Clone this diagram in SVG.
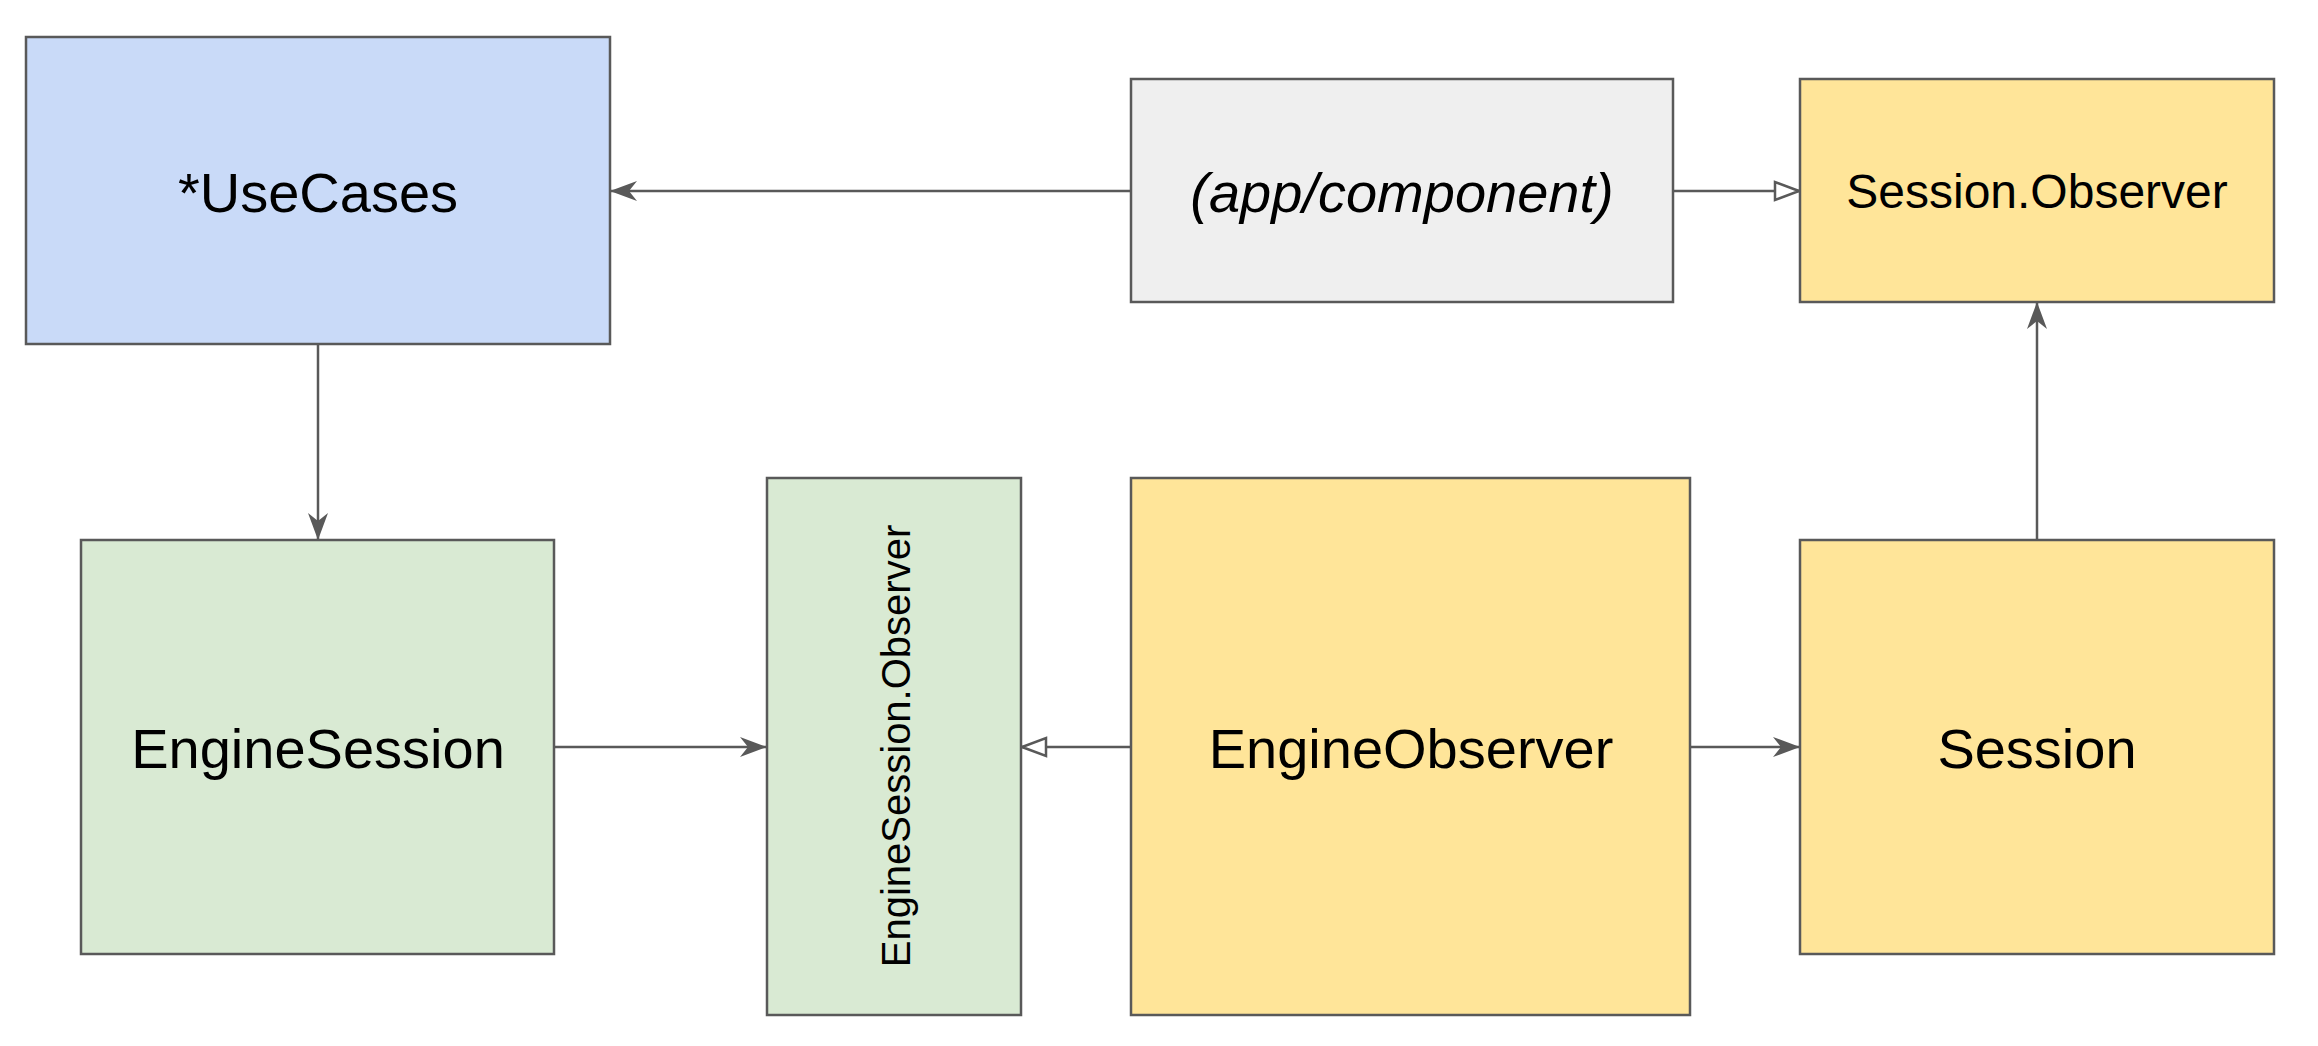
<svg xmlns="http://www.w3.org/2000/svg" width="2318" height="1046" viewBox="0 0 2318 1046">
<style>
.box{stroke:#595959;stroke-width:2.5}
.blue{fill:#c9daf8}.green{fill:#d9ead3}.yellow{fill:#ffe599}.gray{fill:#efefef}
.lbl{font-family:"Liberation Sans",Arial,sans-serif;fill:#000;text-anchor:middle}
.conn{stroke:#595959;stroke-width:2.5;fill:none}
</style>
<defs>
<marker id="arrow" markerUnits="userSpaceOnUse" viewBox="-30 -12 32 24" refX="0" refY="0" markerWidth="32" markerHeight="24" orient="auto">
<path d="M0,0 L-27,-10 L-19,0 L-27,10 Z" fill="#595959"/>
</marker>
<marker id="hollow" markerUnits="userSpaceOnUse" viewBox="-30 -12 32 24" refX="0" refY="0" markerWidth="32" markerHeight="24" orient="auto">
<path d="M-1,0 L-25,-9 L-25,9 Z" fill="#ffffff" stroke="#595959" stroke-width="2.5"/>
</marker>
</defs>
<rect width="2318" height="1046" fill="#ffffff"/>
<g id="connectors">
<path class="conn" d="M1131,191 L610,191" marker-end="url(#arrow)"/>
<path class="conn" d="M1673,191 L1800,191" marker-end="url(#hollow)"/>
<path class="conn" d="M318,344 L318,540" marker-end="url(#arrow)"/>
<path class="conn" d="M554,747 L767,747" marker-end="url(#arrow)"/>
<path class="conn" d="M1131,747 L1021,747" marker-end="url(#hollow)"/>
<path class="conn" d="M1690,747 L1800,747" marker-end="url(#arrow)"/>
<path class="conn" d="M2037,540 L2037,302" marker-end="url(#arrow)"/>
</g>
<g id="usecases">
<rect class="box blue" x="26" y="37" width="584" height="307"/>
<text class="lbl" x="318" y="212" font-size="56">*UseCases</text>
</g>
<g id="appcomponent">
<rect class="box gray" x="1131" y="79" width="542" height="223"/>
<text class="lbl" x="1402" y="212" font-size="56" font-style="italic">(app/component)</text>
</g>
<g id="sessionobserver">
<rect class="box yellow" x="1800" y="79" width="474" height="223"/>
<text class="lbl" x="2037" y="208" font-size="48">Session.Observer</text>
</g>
<g id="enginesession">
<rect class="box green" x="81" y="540" width="473" height="414"/>
<text class="lbl" x="318" y="768" font-size="56">EngineSession</text>
</g>
<g id="enginesessionobserver">
<rect class="box green" x="767" y="478" width="254" height="537"/>
<text class="lbl" x="0" y="0" font-size="40" transform="translate(910,746) rotate(-90)">EngineSession.Observer</text>
</g>
<g id="engineobserver">
<rect class="box yellow" x="1131" y="478" width="559" height="537"/>
<text class="lbl" x="1411" y="768" font-size="56">EngineObserver</text>
</g>
<g id="session">
<rect class="box yellow" x="1800" y="540" width="474" height="414"/>
<text class="lbl" x="2037" y="768" font-size="56">Session</text>
</g>
</svg>
